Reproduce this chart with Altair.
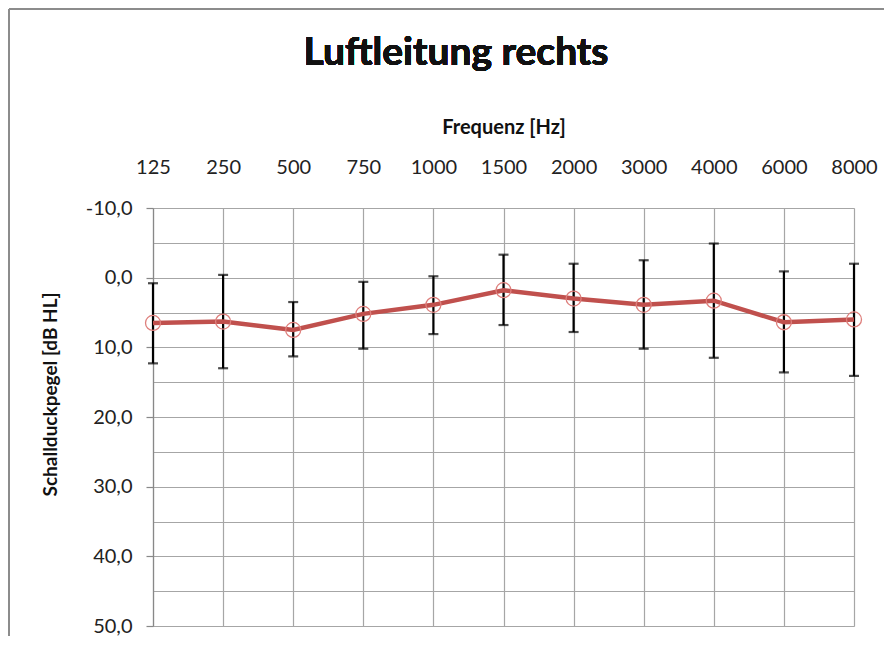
import altair as alt
import pandas as pd

freqs = ["125", "250", "500", "750", "1000", "1500", "2000", "3000", "4000", "6000", "8000"]
means = [6.5, 6.3, 7.5, 5.2, 3.9, 1.8, 3.0, 3.9, 3.3, 6.4, 6.0]
lows = [0.8, -0.4, 3.5, 0.6, -0.2, -3.3, -2.0, -2.5, -4.9, -0.9, -2.0]
highs = [12.3, 13.0, 11.3, 10.2, 8.1, 6.8, 7.8, 10.2, 11.5, 13.6, 14.1]
y_ticks = [-10, -5, 0, 5, 10, 15, 20, 25, 30, 35, 40, 45, 50]
chart_title = "Luftleitung rechts"

df = pd.DataFrame({"freq": freqs, "mean": means, "lo": lows, "hi": highs})

FONT = "Lato"
W, H = 701, 418

x_enc = alt.X(
    "freq:N",
    sort=freqs,
    scale=alt.Scale(type="point", padding=0),
    axis=alt.Axis(
        orient="top",
        title="Frequenz [Hz]",
        titleFont=FONT,
        titleFontSize=20,
        titleFontWeight="bold",
        titleColor="#111",
        titlePadding=20,
        labelFont=FONT,
        labelFontSize=20,
        labelColor="#222",
        labelAngle=0,
        labelPadding=31,
        ticks=False,
        domain=False,
        grid=True,
        gridColor="#a6a6a6",
        gridWidth=1.2,
    ),
)


def y_enc(field):
    return alt.Y(
        f"{field}:Q",
        scale=alt.Scale(domain=[-10, 50], reverse=True, nice=False, zero=False),
        axis=alt.Axis(
            values=y_ticks,
            title="Schallduckpegel [dB HL]",
            titleFont=FONT,
            titleFontSize=19,
            titleFontWeight="bold",
            titleColor="#111",
            titleAngle=-90,
            titleX=-103,
            titleY=186,
            titleAlign="center",
            titleBaseline="middle",
            labelFont=FONT,
            labelFontSize=20,
            labelColor="#222",
            labelPadding=14,
            labelExpr="datum.value % 10 === 0 ? replace(replace(format(datum.value, '.1f'), '.', ','), '\u2212', '-') : ''",
            tickSize=7,
            tickColor="#888",
            tickWidth=1.2,
            tickOpacity={"condition": {"test": "datum.value % 10 === 0", "value": 1}, "value": 0},
            domain=True,
            domainColor="#888",
            domainWidth=1.2,
            grid=True,
            gridColor="#a6a6a6",
            gridWidth=1.2,
        ),
    )


base = alt.Chart(df)

bars = base.mark_rule(color="black", strokeWidth=2.2).encode(
    x=x_enc, y=y_enc("lo"), y2="hi:Q"
)
cap_lo = base.mark_tick(color="black", thickness=2.2, size=10).encode(x=x_enc, y=y_enc("lo"))
cap_hi = base.mark_tick(color="black", thickness=2.2, size=10).encode(x=x_enc, y=y_enc("hi"))
line = base.mark_line(color="#C0504D", strokeWidth=4.5).encode(x=x_enc, y=y_enc("mean"))
pts = base.mark_point(
    shape="circle", filled=False, size=225, color="#DE7F7C", strokeWidth=1.3, opacity=1
).encode(x=x_enc, y=y_enc("mean"))

title_mark = alt.Chart(df).mark_text(
    font=FONT, fontSize=39, fontWeight="bold", color="#111", align="center", baseline="alphabetic"
).encode(x=alt.value(303), y=alt.value(65 - 208), text=alt.value(chart_title))

frame_left = alt.Chart(df).mark_rule(color="#8c8c8c", strokeWidth=2).encode(
    x=alt.value(-144), y=alt.value(-199), y2=alt.value(H + 20)
)
frame_top = alt.Chart(df).mark_rule(color="#8c8c8c", strokeWidth=2).encode(
    x=alt.value(-144), x2=alt.value(W + 40), y=alt.value(-199)
)

chart = (
    alt.layer(bars, cap_lo, cap_hi, line, pts, title_mark, frame_left, frame_top)
    .properties(
        width=W,
        height=H,
        autosize=alt.AutoSizeParams(type="none"),
        padding={"left": 145, "top": 200, "right": 30, "bottom": 10},
    )
    .configure_view(stroke="#8c8c8c", strokeWidth=1.2)
    .configure(background="white")
)

chart.save("out.html", embed_options={"renderer": "svg", "actions": False})
